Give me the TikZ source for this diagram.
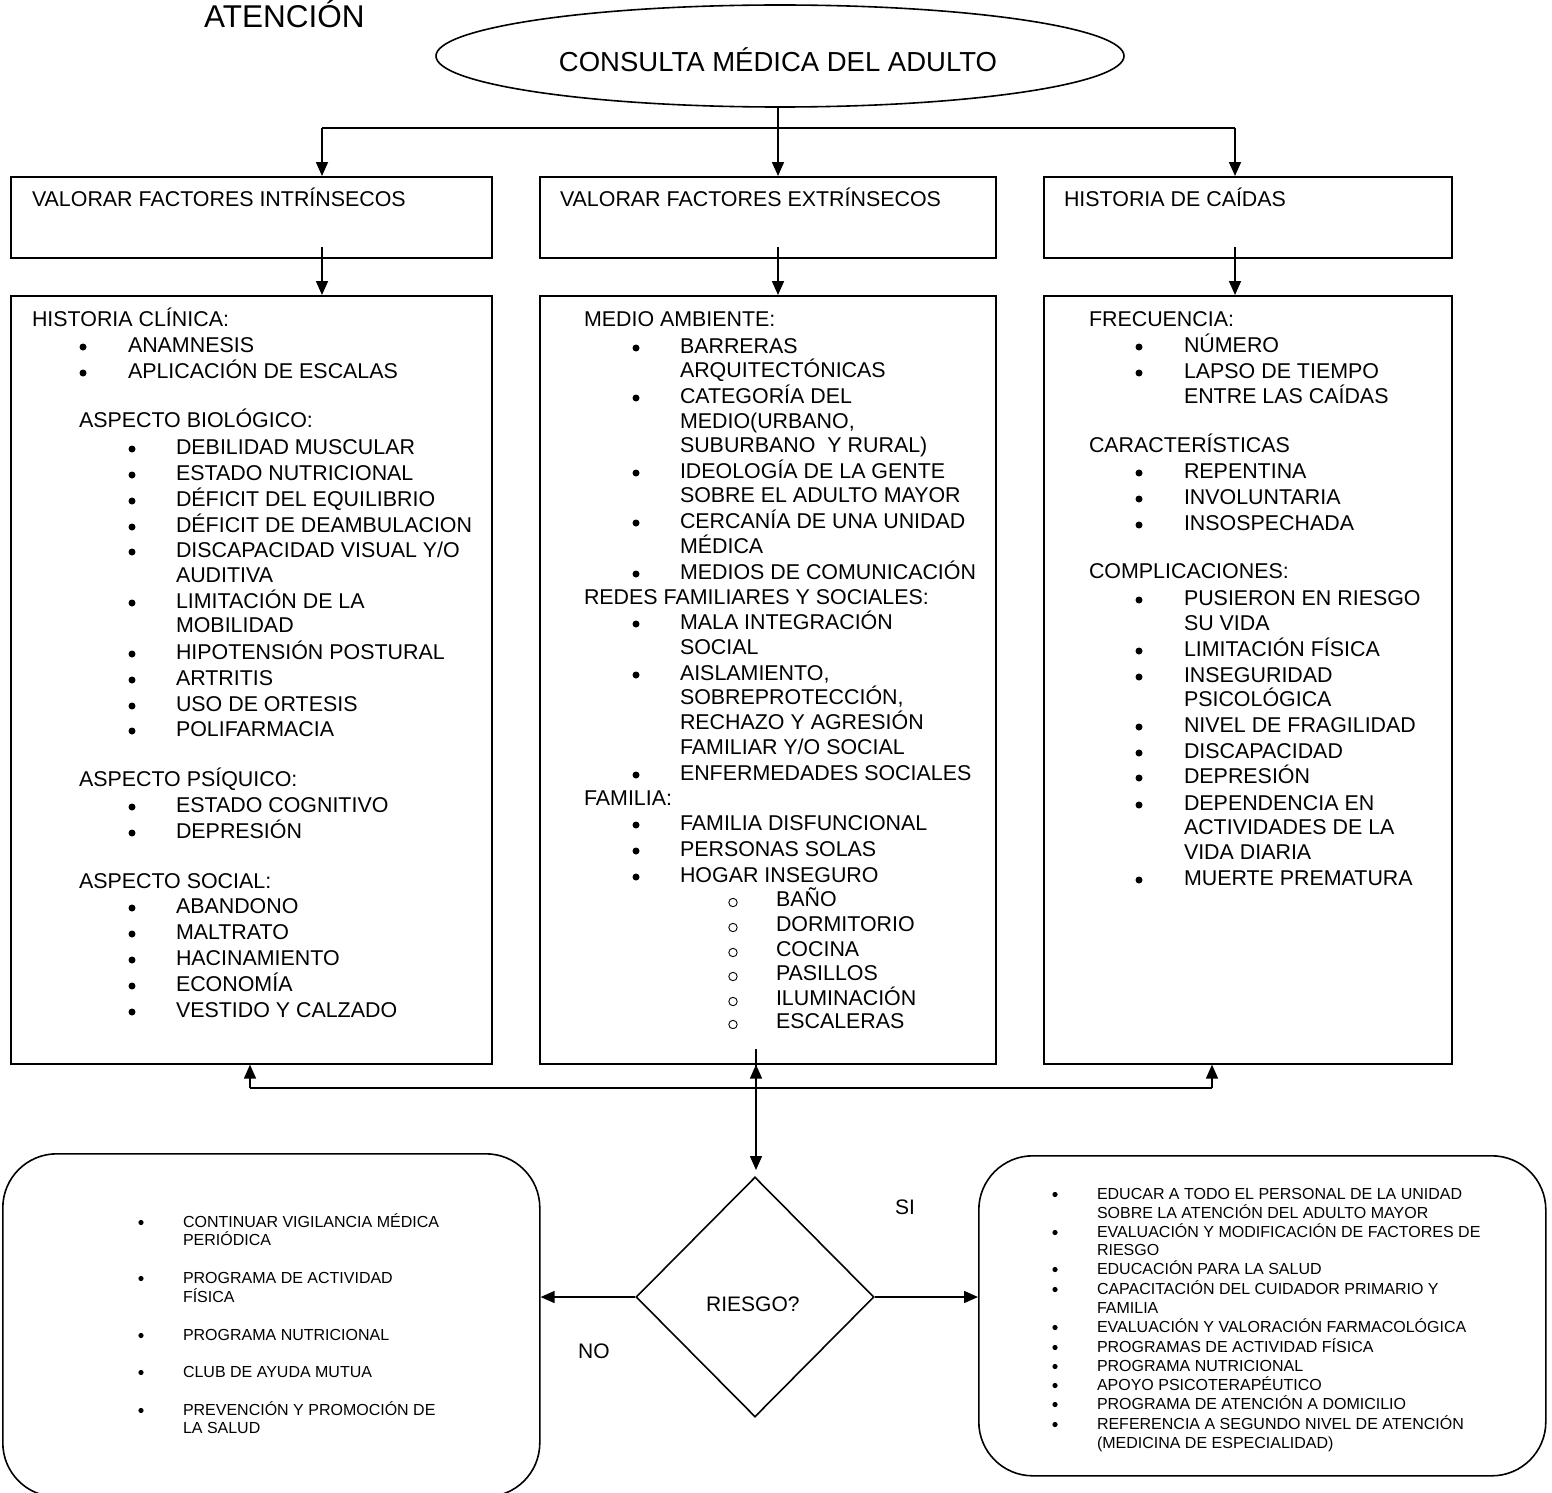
\documentclass[tikz,border=0pt]{standalone}
\usepackage{fontspec}
\setmainfont{Liberation Sans}
\usetikzlibrary{arrows.meta,shapes.geometric}
\newcounter{lnc}
\tikzset{
 txt/.style={anchor=base west, inner sep=0pt, outer sep=0pt, font=\fontsize{21.4}{26}\selectfont},
 txs/.style={anchor=base west, inner sep=0pt, outer sep=0pt, font=\fontsize{16}{19}\selectfont},
 box/.style={draw, line width=1.6pt, anchor=north west, inner sep=0pt},
 rbox/.style={draw, line width=1.6pt, anchor=north west, inner sep=0pt, rounded corners=54pt},
 arr/.style={line width=1.6pt, -{Triangle[length=14pt,width=12pt]}},
 lin/.style={line width=1.6pt},
}
\newcommand\Tx[3]{\stepcounter{lnc}\node[txt] (tx\arabic{lnc}) at (#1,#2) {#3};}
\newcommand\Bu[4]{\fill (#1,#3-5) circle (3.5pt); \Tx{#2}{#3}{#4}}
\newcommand\Ci[2]{\draw[line width=0.9pt] (733,#1-3.5) circle (4.2pt); \Tx{776}{#1}{#2}}
\newcommand\Ts[3]{\stepcounter{lnc}\node[txs] (tx\arabic{lnc}) at (#1,#2) {#3};}
\newcommand\Bs[4]{\fill (#1,#3-4.5) circle (2.6pt); \Ts{#2}{#3}{#4}}
\begin{document}
\begin{tikzpicture}[x=1pt,y=-1pt]
\useasboundingbox (0,0) rectangle (1552,1493);
% title
\node[anchor=base west, inner sep=0pt, font=\fontsize{31.5}{36}\selectfont] (title) at (204,28) {ATENCIÓN};
% ellipse
\node[ellipse, draw, line width=1.6pt, minimum width=688pt, minimum height=102pt, inner sep=0pt] (ell) at (780,56) {};
\node[anchor=base, inner sep=0pt, font=\fontsize{27.5}{32}\selectfont] (elltxt) at (778,72) {CONSULTA MÉDICA DEL ADULTO};
% row 1 boxes
\node[box, minimum width=481pt, minimum height=81pt] (a1) at (10,176) {};
\node[box, minimum width=456pt, minimum height=81pt] (a2) at (539,176) {};
\node[box, minimum width=408pt, minimum height=81pt] (a3) at (1043,176) {};
\Tx{32}{206}{VALORAR FACTORES INTRÍNSECOS}
\Tx{560}{206}{VALORAR FACTORES EXTRÍNSECOS}
\Tx{1064}{206}{HISTORIA DE CAÍDAS}
% row 2 boxes
\node[box, minimum width=481pt, minimum height=768pt] (b1) at (10,295) {};
\node[box, minimum width=456pt, minimum height=768pt] (b2) at (539,295) {};
\node[box, minimum width=408pt, minimum height=768pt] (b3) at (1043,295) {};
% connectors top
\coordinate (j1) at (322,128);
\coordinate (j2) at (778,128);
\coordinate (j3) at (1235,128);
\draw[lin] (j2 |- ell.south) -- (j2);
\draw[lin] (j1) -- (j3);
\draw[arr] (j1) -- (j1 |- a1.north);
\draw[arr] (j2) -- (j2 |- a2.north);
\draw[arr] (j3) -- (j3 |- a3.north);
\coordinate (k1) at (322,247);
\coordinate (k2) at (778,247);
\coordinate (k3) at (1235,247);
\draw[arr] (k1) -- (k1 |- b1.north);
\draw[arr] (k2) -- (k2 |- b2.north);
\draw[arr] (k3) -- (k3 |- b3.north);
% column 1
\Tx{32}{326}{HISTORIA CLÍNICA:}
\Bu{83}{128}{352}{ANAMNESIS}
\Bu{83}{128}{378}{APLICACIÓN DE ESCALAS}
\Tx{79}{427}{ASPECTO BIOLÓGICO:}
\foreach \y/\s in {454/DEBILIDAD MUSCULAR, 480/ESTADO NUTRICIONAL, 506/DÉFICIT DEL EQUILIBRIO, 532/DÉFICIT DE DEAMBULACION, 608/LIMITACIÓN DE LA, 659/HIPOTENSIÓN POSTURAL, 685/ARTRITIS, 711/USO DE ORTESIS, 736/POLIFARMACIA}
  {\Bu{132}{176}{\y}{\s}}
\Bu{132}{176}{557}{DISCAPACIDAD VISUAL Y/O}
\Tx{176}{582}{AUDITIVA}
\Tx{176}{632}{MOBILIDAD}
\Tx{79}{786}{ASPECTO PSÍQUICO:}
\Bu{132}{176}{812}{ESTADO COGNITIVO}
\Bu{132}{176}{838}{DEPRESIÓN}
\Tx{79}{888}{ASPECTO SOCIAL:}
\foreach \y/\s in {913/ABANDONO, 939/MALTRATO, 965/HACINAMIENTO, 991/ECONOMÍA, 1017/VESTIDO Y CALZADO}
  {\Bu{132}{176}{\y}{\s}}
% column 2
\Tx{584}{326}{MEDIO AMBIENTE:}
\foreach \y/\s in {353/BARRERAS, 403/CATEGORÍA DEL, 478/IDEOLOGÍA DE LA GENTE, 528/CERCANÍA DE UNA UNIDAD, 579/MEDIOS DE COMUNICACIÓN, 629/MALA INTEGRACIÓN, 680/{AISLAMIENTO,}, 780/ENFERMEDADES SOCIALES, 830/FAMILIA DISFUNCIONAL, 856/PERSONAS SOLAS, 882/HOGAR INSEGURO}
  {\Bu{636}{680}{\y}{\s}}
\Tx{680}{377}{ARQUITECTÓNICAS}
\Tx{680}{428}{MEDIO(URBANO,}
\Tx{680}{452}{SUBURBANO\ \ Y RURAL)}
\Tx{680}{502}{SOBRE EL ADULTO MAYOR}
\Tx{680}{553}{MÉDICA}
\Tx{584}{604}{REDES FAMILIARES Y SOCIALES:}
\Tx{680}{654}{SOCIAL}
\Tx{680}{704}{SOBREPROTECCIÓN,}
\Tx{680}{729}{RECHAZO Y AGRESIÓN}
\Tx{680}{754}{FAMILIAR Y/O SOCIAL}
\Tx{584}{805}{FAMILIA:}
\foreach \y/\s in {906/BAÑO, 931/DORMITORIO, 956/COCINA, 980/PASILLOS, 1005/ILUMINACIÓN, 1028/ESCALERAS}
  {\Ci{\y}{\s}}
% column 3
\Tx{1089}{326}{FRECUENCIA:}
\Bu{1139}{1184}{352}{NÚMERO}
\Bu{1139}{1184}{378}{LAPSO DE TIEMPO}
\Tx{1184}{403}{ENTRE LAS CAÍDAS}
\Tx{1089}{452}{CARACTERÍSTICAS}
\foreach \y/\s in {478/REPENTINA, 504/INVOLUNTARIA, 530/INSOSPECHADA}
  {\Bu{1139}{1184}{\y}{\s}}
\Tx{1089}{578}{COMPLICACIONES:}
\foreach \y/\s in {605/PUSIERON EN RIESGO, 656/LIMITACIÓN FÍSICA, 682/INSEGURIDAD, 732/NIVEL DE FRAGILIDAD, 758/DISCAPACIDAD, 783/DEPRESIÓN, 810/DEPENDENCIA EN, 885/MUERTE PREMATURA}
  {\Bu{1139}{1184}{\y}{\s}}
\Tx{1184}{630}{SU VIDA}
\Tx{1184}{706}{PSICOLÓGICA}
\Tx{1184}{834}{ACTIVIDADES DE LA}
\Tx{1184}{859}{VIDA DIARIA}
% bottom connectors
\coordinate (m1) at (250,1088);
\coordinate (m2) at (756,1088);
\coordinate (m3) at (1212,1088);
\coordinate (mtop) at (756,1049);
\draw[lin] (m1) -- (m3);
\draw[arr] (m1) -- (m1 |- b1.south);
\draw[arr] (m3) -- (m3 |- b3.south);
\draw[lin] (mtop) -- (m2);
\draw[arr] (m2) -- (m2 |- b2.south);
% diamond
\node[diamond, draw, line width=1.6pt, minimum width=238pt, minimum height=240pt, inner sep=0pt] (dia) at (755,1297) {};
\node[anchor=base west, inner sep=0pt, font=\fontsize{21}{25}\selectfont] (riesgo) at (706,1311) {RIESGO?};
\coordinate (dtop) at (756,1170);
\draw[arr] (m2) -- (dtop);
% bottom boxes
\node[rbox, minimum width=537pt, minimum height=343pt] (lb) at (2,1153) {};
\node[rbox, minimum width=567pt, minimum height=320pt] (rb) at (978,1155) {};
\draw[arr] (dia.west) -- (dia.west -| lb.east);
\draw[arr] (dia.east) -- (dia.east -| rb.west);
\node[anchor=base west, inner sep=0pt, font=\fontsize{21}{25}\selectfont] (si) at (895,1214) {SI};
\node[anchor=base west, inner sep=0pt, font=\fontsize{21}{25}\selectfont] (no) at (578,1358) {NO};
% left bottom list
\Bs{141}{183}{1227}{CONTINUAR VIGILANCIA MÉDICA}
\Ts{183}{1245}{PERIÓDICA}
\Bs{141}{183}{1283}{PROGRAMA DE ACTIVIDAD}
\Ts{183}{1302}{FÍSICA}
\Bs{141}{183}{1340}{PROGRAMA NUTRICIONAL}
\Bs{141}{183}{1377}{CLUB DE AYUDA MUTUA}
\Bs{141}{183}{1415}{PREVENCIÓN Y PROMOCIÓN DE}
\Ts{183}{1433}{LA SALUD}
% right bottom list
\foreach \y/\s in {1199/EDUCAR A TODO EL PERSONAL DE LA UNIDAD, 1237/EVALUACIÓN Y MODIFICACIÓN DE FACTORES DE, 1274/EDUCACIÓN PARA LA SALUD, 1294/CAPACITACIÓN DEL CUIDADOR PRIMARIO Y, 1332/EVALUACIÓN Y VALORACIÓN FARMACOLÓGICA, 1352/PROGRAMAS DE ACTIVIDAD FÍSICA, 1371/PROGRAMA NUTRICIONAL, 1390/APOYO PSICOTERAPÉUTICO, 1409/PROGRAMA DE ATENCIÓN A DOMICILIO, 1429/REFERENCIA A SEGUNDO NIVEL DE ATENCIÓN}
  {\Bs{1055}{1097}{\y}{\s}}
\Ts{1097}{1218}{SOBRE LA ATENCIÓN DEL ADULTO MAYOR}
\Ts{1097}{1255}{RIESGO}
\Ts{1097}{1313}{FAMILIA}
\Ts{1097}{1448}{(MEDICINA DE ESPECIALIDAD)}
\end{tikzpicture}
\end{document}
